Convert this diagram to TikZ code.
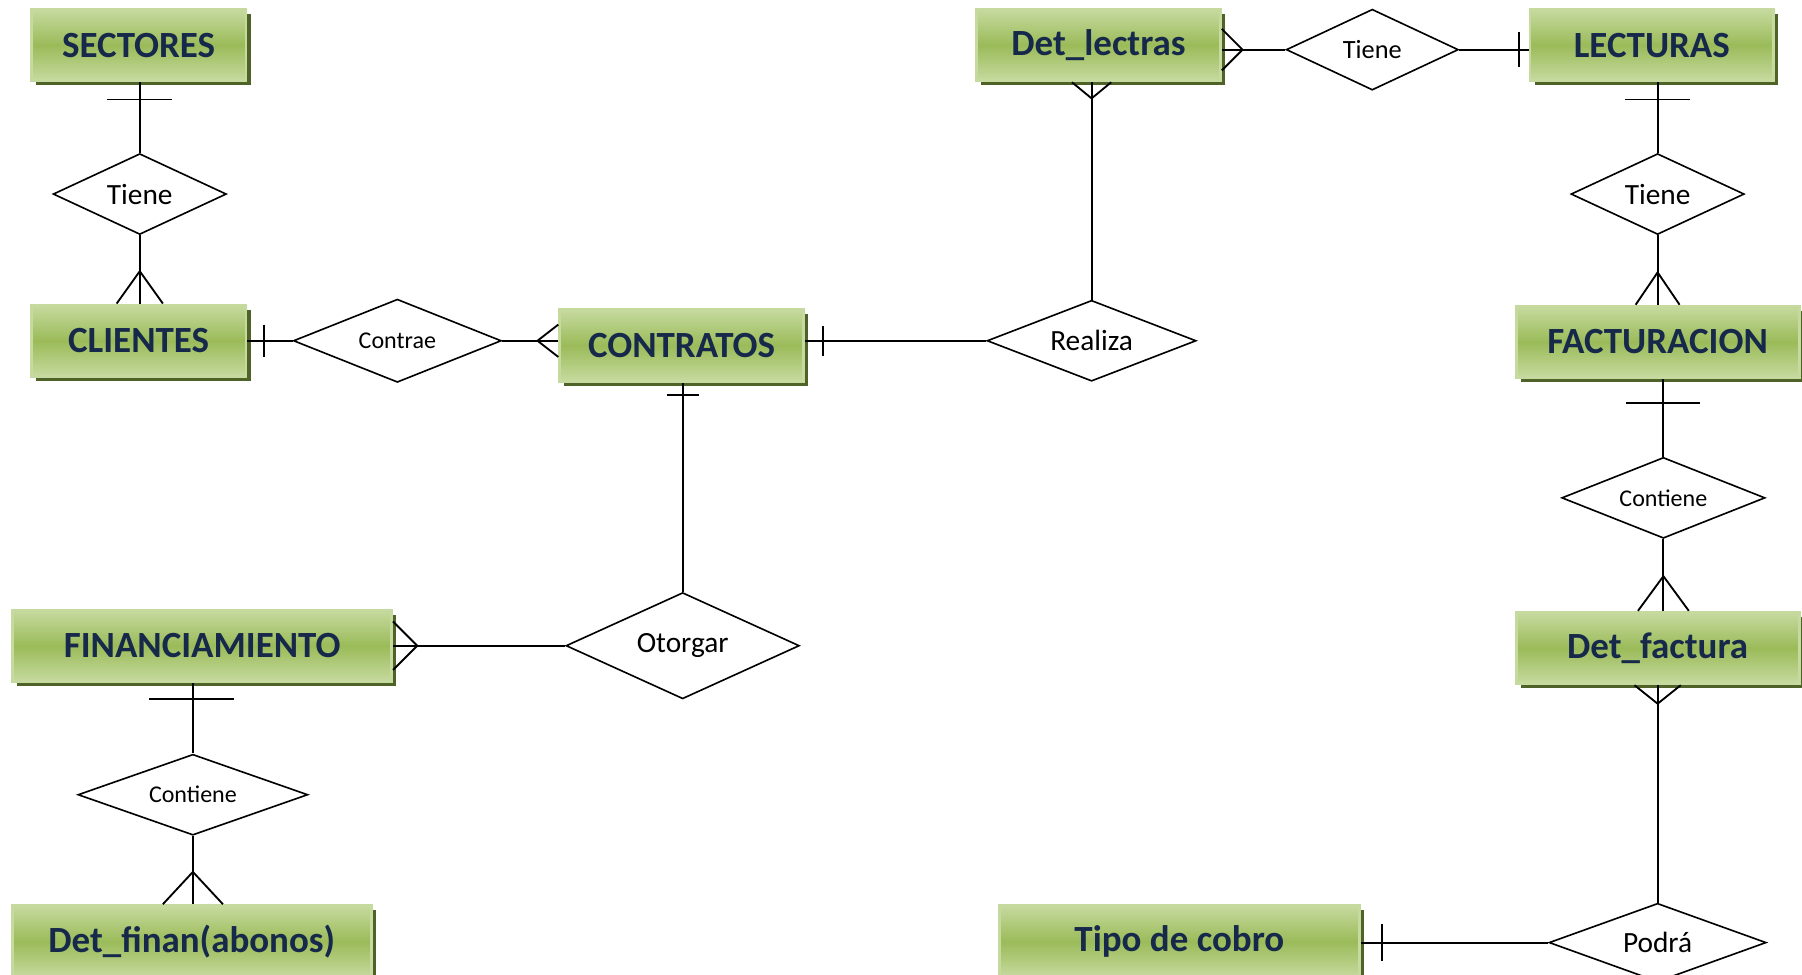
\documentclass[tikz,border=0pt]{standalone}
\usepackage{fontspec}
\setmainfont{Carlito}
\usetikzlibrary{shapes.geometric,calc,shadows}
\definecolor{entfill}{HTML}{9BBB59}
\definecolor{entlight}{HTML}{C6DA9F}
\definecolor{entshadow}{HTML}{4F6228}
\definecolor{enttext}{HTML}{17294A}
\tikzset{entity/.style={rectangle, draw=entlight, line width=1.2pt,
    top color=entlight, bottom color=entlight, middle color=entfill,
    minimum height=31pt, text=enttext,
    font=\fontsize{16}{18}\selectfont\bfseries,
    drop shadow={shadow xshift=2pt, shadow yshift=-2pt, fill=entshadow, opacity=1}},
  relation/.style={diamond, aspect=2.6, draw, line width=0.7pt, fill=white, inner sep=0pt,
    font=\fontsize{12.7}{14}\selectfont},
  smallrel/.style={relation, font=\fontsize{10.4}{12}\selectfont},
  conn/.style={line width=0.8pt},
}

\begin{document}
\begin{tikzpicture}[x=0.5pt, y=-0.5pt, every path/.style={conn}]
\useasboundingbox (0,0) rectangle (1560,844);
% entities
\node[entity, minimum width=93pt] (sect) at (120,39) {SECTORES};
\node[entity, minimum width=93pt] (cli) at (120,295) {CLIENTES};
\node[entity, minimum width=105.5pt] (contr) at (590,299) {CONTRATOS};
\node[entity, minimum width=105.5pt] (detl) at (951,39) {Det\_lectras};
\node[entity, minimum width=105.5pt] (lect) at (1430,39) {LECTURAS};
\node[entity, minimum width=122.5pt] (fact) at (1435,296) {FACTURACION};
\node[entity, minimum width=122.5pt] (detf) at (1435,561) {Det\_factura};
\node[entity, minimum width=164pt] (fin) at (175,559) {FINANCIAMIENTO};
\node[entity, minimum width=155.5pt] (detfin) at (166,815) {Det\_finan(abonos)};
\node[entity, minimum width=156pt] (tipo) at (1021,815) {Tipo de cobro};
% relations
\node[relation, minimum width=75pt, minimum height=35pt] (tiene1) at (121,168) {Tiene};
\node[smallrel, minimum width=90pt, minimum height=36pt] (contrae) at (344,295) {Contrae};
\node[relation, minimum width=90.5pt, minimum height=35pt] (realiza) at (945,295) {Realiza};
\node[relation, minimum width=101pt, minimum height=46pt] (otorgar) at (591,559) {Otorgar};
\node[smallrel, minimum width=99.5pt, minimum height=35pt] (cont1) at (167,688) {Contiene};
\node[relation, minimum width=74.5pt, minimum height=35pt, font=\fontsize{11.4}{13}\selectfont] (tiene0) at (1188,43) {Tiene};
\node[relation, minimum width=75pt, minimum height=35pt] (tiene2) at (1435,168) {Tiene};
\node[smallrel, minimum width=88pt, minimum height=35pt] (cont2) at (1440,431) {Contiene};
\node[relation, minimum width=94pt, minimum height=34pt] (podra) at (1435,816) {Podrá};
% connectors
\draw (tiene1.north) -- (tiene1.north |- sect.south);
\draw (tiene1.south) -- (tiene1.south |- cli.north);
\draw (contrae.west) -- (contrae.west -| cli.east);
\draw (contrae.east) -- (contrae.east -| contr.west);
\draw (realiza.west) -- (realiza.west -| contr.east);
\draw (realiza.north) -- (realiza.north |- detl.south);
\draw (otorgar.north) -- (otorgar.north |- contr.south);
\draw (otorgar.west) -- (otorgar.west -| fin.east);
\draw (cont1.north) -- (cont1.north |- fin.south);
\draw (cont1.south) -- (cont1.south |- detfin.north);
\draw (tiene0.west) -- (tiene0.west -| detl.east);
\draw (tiene0.east) -- (tiene0.east -| lect.west);
\draw (tiene2.north) -- (tiene2.north |- lect.south);
\draw (tiene2.south) -- (tiene2.south |- fact.north);
\draw (cont2.north) -- (cont2.north |- fact.south);
\draw (cont2.south) -- (cont2.south |- detf.north);
\draw (podra.north) -- (podra.north |- detf.south);
\draw (podra.west) -- (podra.west -| tipo.east);
% one
\draw ($(tiene1.north |- sect.south)+(-28,15)$) -- ++(56,0);
\draw ($(contrae.west -| cli.east)+(14,-14)$) -- ++(0,28);
\draw ($(realiza.west -| contr.east)+(16,-13)$) -- ++(0,26);
\draw ($(otorgar.north |- contr.south)+(-14,11)$) -- ++(28,0);
\draw ($(tiene0.east -| lect.west)+(-8,-15)$) -- ++(0,30);
\draw ($(tiene2.north |- lect.south)+(-28,15)$) -- ++(56,0);
\draw ($(cont2.north |- fact.south)+(-32,21)$) -- ++(64,0);
\draw ($(cont1.north |- fin.south)+(-38,14)$) -- ++(74,0);
\draw ($(podra.west -| tipo.east)+(18,-16)$) -- ++(0,32);
% many
\draw ($(tiene1.south |- cli.north)+(-20,0)$) -- ++(20,-28) -- ++(20,28);
\draw ($(contrae.east -| contr.west)+(0,-14)$) -- ++(-18,14) -- ++(18,14);
\draw ($(tiene0.west -| detl.east)+(0,-18)$) -- ++(18,18) -- ++(-18,18);
\draw ($(realiza.north |- detl.south)+(-17,0)$) -- ++(17,14) -- ++(17,-14);
\draw ($(tiene2.south |- fact.north)+(-19,0)$) -- ++(19,-28) -- ++(19,28);
\draw ($(cont2.south |- detf.north)+(-22,0)$) -- ++(22,-30) -- ++(22,30);
\draw ($(podra.north |- detf.south)+(-20,0)$) -- ++(20,16) -- ++(20,-16);
\draw ($(otorgar.west -| fin.east)+(0,-21)$) -- ++(21,21) -- ++(-21,21);
\draw ($(cont1.south |- detfin.north)+(-26,0)$) -- ++(26,-28) -- ++(26,28);
\end{tikzpicture}
\end{document}
